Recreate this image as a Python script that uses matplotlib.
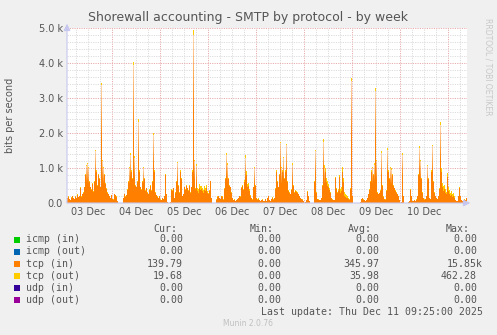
import numpy as np
import matplotlib
matplotlib.use("Agg")
import matplotlib.pyplot as plt
from matplotlib.colors import to_rgb

# 30-minute samples, bits per second, starting Dec 3 01:30
tcp_in = [
    150, 180, 120, 90, 160, 200, 140, 110, 180, 150, 230, 170, 200, 430, 180, 250,
    300, 450, 800, 1050, 1110, 1000, 600, 450, 380, 550, 320, 600, 1480, 900, 500, 800,
    700, 450, 3380, 1200, 1000, 800, 550, 400, 300, 250, 200, 150, 230, 120, 100, 250,
    220, 180, 60, 0, 0, 0, 0, 0, 150, 250, 180, 220, 380, 600, 1000, 1380,
    900, 700, 3950, 1300, 500, 450, 600, 2330, 900, 450, 380, 600, 1000, 700, 350, 420,
    300, 250, 380, 480, 350, 600, 1950, 900, 300, 220, 180, 150, 200, 100, 80, 150,
    120, 200, 800, 250, 30, 0, 0, 20, 380, 350, 420, 150, 300, 600, 1140, 500,
    300, 900, 700, 200, 250, 450, 380, 500, 420, 350, 480, 300, 450, 900, 4800, 1200,
    400, 1050, 350, 300, 420, 380, 400, 350, 300, 380, 350, 420, 300, 250, 350, 620,
    150, 0, 0, 0, 0, 100, 180, 200, 150, 120, 200, 180, 100, 400, 700, 1380,
    1100, 700, 500, 450, 300, 150, 80, 100, 60, 80, 120, 150, 200, 180, 430, 500,
    380, 600, 1280, 800, 450, 500, 350, 200, 150, 100, 450, 1000, 500, 150, 100, 130,
    90, 60, 80, 100, 50, 70, 120, 60, 150, 200, 90, 60, 120, 160, 100, 150,
    400, 900, 600, 450, 800, 1710, 1000, 900, 1280, 700, 900, 1650, 600, 350, 300, 250,
    380, 1100, 500, 300, 350, 330, 300, 250, 200, 150, 120, 100, 50, 0, 30, 80,
    330, 200, 60, 0, 0, 0, 0, 600, 1480, 300, 120, 100, 90, 80, 150, 500,
    1760, 1000, 900, 600, 500, 450, 380, 300, 150, 100, 80, 90, 710, 400, 300, 350,
    760, 300, 350, 900, 600, 200, 180, 150, 150, 120, 100, 400, 3480, 200, 0, 0,
    0, 0, 0, 0, 0, 30, 120, 150, 100, 80, 60, 90, 150, 250, 380, 600,
    900, 1000, 800, 1100, 3190, 1200, 300, 250, 280, 350, 1430, 500, 180, 120, 100, 350,
    1520, 900, 700, 1000, 950, 800, 500, 420, 350, 300, 250, 200, 80, 0, 40, 1380,
    200, 0, 0, 0, 0, 30, 60, 380, 200, 50, 60, 80, 70, 100, 200, 800,
    1570, 1200, 700, 300, 150, 100, 120, 200, 1050, 700, 150, 120, 900, 1620, 600, 300,
    200, 150, 120, 200, 400, 2240, 900, 450, 350, 400, 300, 250, 760, 350, 250, 200,
    230, 180, 200, 150, 80, 60, 50, 200, 430, 200, 80, 60, 50, 100, 80, 150,
]
tcp_out = [
    10, 15, 10, 5, 10, 15, 10, 10, 15, 10, 20, 15, 15, 30, 15, 20,
    20, 25, 35, 40, 45, 40, 25, 20, 20, 30, 20, 25, 50, 35, 25, 30,
    25, 20, 60, 40, 35, 30, 25, 20, 20, 15, 15, 10, 15, 10, 5, 15,
    15, 10, 5, 0, 0, 0, 0, 0, 10, 15, 15, 15, 20, 30, 40, 50,
    35, 30, 90, 45, 25, 20, 25, 70, 35, 20, 20, 25, 40, 30, 20, 20,
    20, 15, 20, 25, 20, 25, 50, 35, 20, 15, 10, 10, 15, 5, 5, 10,
    5, 15, 30, 15, 0, 0, 0, 0, 20, 20, 25, 10, 20, 25, 45, 20,
    20, 35, 30, 15, 15, 25, 20, 30, 25, 20, 30, 20, 25, 35, 140, 45,
    30, 60, 90, 110, 120, 110, 100, 90, 80, 100, 90, 100, 60, 30, 30, 25,
    10, 0, 0, 0, 0, 5, 10, 15, 10, 5, 15, 10, 5, 20, 30, 50,
    40, 30, 25, 20, 20, 10, 5, 5, 5, 5, 5, 10, 15, 10, 25, 30,
    25, 60, 90, 120, 100, 80, 40, 20, 10, 5, 25, 35, 20, 10, 5, 10,
    5, 5, 5, 5, 5, 5, 10, 5, 10, 15, 5, 5, 10, 10, 5, 10,
    20, 35, 25, 20, 30, 50, 40, 35, 45, 30, 40, 50, 25, 20, 20, 15,
    20, 40, 25, 20, 20, 20, 15, 15, 15, 10, 10, 5, 5, 0, 0, 5,
    15, 10, 5, 0, 0, 0, 0, 25, 50, 15, 10, 5, 5, 5, 10, 25,
    60, 80, 100, 120, 130, 110, 60, 30, 10, 5, 5, 5, 30, 20, 25, 40,
    40, 90, 110, 120, 130, 110, 90, 80, 60, 25, 10, 20, 90, 15, 0, 0,
    0, 0, 0, 0, 0, 0, 5, 10, 5, 5, 5, 5, 10, 15, 20, 25,
    35, 40, 30, 40, 110, 45, 20, 15, 20, 20, 50, 20, 10, 10, 5, 15,
    50, 35, 30, 40, 40, 30, 25, 20, 20, 15, 15, 15, 5, 0, 0, 45,
    10, 0, 0, 0, 0, 0, 5, 15, 15, 5, 5, 5, 5, 5, 15, 30,
    50, 45, 30, 20, 10, 5, 10, 15, 40, 30, 10, 10, 35, 55, 35, 20,
    15, 10, 10, 15, 25, 80, 90, 120, 130, 120, 100, 80, 90, 110, 120, 100,
    110, 90, 80, 40, 10, 5, 5, 15, 20, 15, 5, 5, 5, 5, 5, 10,
]

day_labels = ["03 Dec", "04 Dec", "05 Dec", "06 Dec", "07 Dec", "08 Dec", "09 Dec", "10 Dec"]
y_labels = ["0.0", "1.0 k", "2.0 k", "3.0 k", "4.0 k", "5.0 k"]

series = ["icmp (in)", "icmp (out)", "tcp (in)", "tcp (out)", "udp (in)", "udp (out)"]
colors = ["#00CC00", "#0066B3", "#FF8000", "#FFCC00", "#330099", "#990099"]
cur = ["0.00", "0.00", "139.79", "19.68", "0.00", "0.00"]
vmin = ["0.00", "0.00", "0.00", "0.00", "0.00", "0.00"]
avg = ["0.00", "0.00", "345.97", "35.98", "0.00", "0.00"]
vmax = ["0.00", "0.00", "15.85k", "462.28", "0.00", "0.00"]

W, H = 497, 335
BG = "#F0F0F0"
TXT = "#555555"
YMAX = 5000


def fx(px):
    return px / W


def fy(py):
    return 1 - py / H


fig = plt.figure(figsize=(W / 100, H / 100), dpi=100, facecolor=BG)
ax = fig.add_axes([fx(67), fy(203), 400 / W, 175 / H], facecolor="white")

# hours since start; first midnight at 22.5 h
step = 0.5
n = len(tcp_in)
t_in = np.array(tcp_in, dtype=float)
t_out = np.array(tcp_out, dtype=float)

ax.set_xlim(0, n * step)
ax.set_ylim(0, YMAX)
for s in ax.spines.values():
    s.set_visible(False)

# grid: minor every 6 h / 200 bps, major at midnight / 1000 bps
minor_col, major_col = "#dcdcdc", "#e8abab"
dots = (0, (1.2, 1.2))
for h in np.arange(4.5, 200, 6):
    is_major = abs((h - 22.5) % 24) < 1e-6
    ax.axvline(h, color=major_col if is_major else minor_col, lw=0.7,
               ls=dots, zorder=1)
for v in range(200, YMAX + 1, 200):
    ax.axhline(v, color=major_col if v % 1000 == 0 else minor_col, lw=0.7,
               ls=dots, zorder=1)

# stacked areas rendered as a column raster so narrow peaks fade toward the top
ny = 700
yc = (np.arange(ny) + 0.5) * YMAX / ny
img = np.zeros((ny, n, 4))
col_in = np.array(to_rgb("#FF8000"))
col_out = np.array(to_rgb("#FFCC00"))

below_in = yc[:, None] < t_in[None, :]
frac = np.divide(yc[:, None], t_in[None, :], out=np.zeros((ny, n)),
                 where=t_in[None, :] > 0)
fade = np.clip(1 - 0.7 * (frac - 0.55) / 0.45, 0.3, 1.0)
alpha_in = np.where(t_in[None, :] > 900, fade, 1.0) * below_in
img[..., :3] = col_in
img[..., 3] = alpha_in

in_out = (yc[:, None] >= t_in[None, :]) & (yc[:, None] < (t_in + t_out)[None, :])
img[in_out, :3] = col_out
img[in_out, 3] = 1.0

ax.imshow(img, origin="lower", extent=[0, n * step, 0, YMAX], aspect="auto",
          interpolation="nearest", zorder=2)

ax.set_xticks(np.arange(10.5, 200, 24)[:len(day_labels)])
ax.set_xticklabels(day_labels, fontsize=7, color=TXT)
ax.set_yticks(np.arange(0, YMAX + 1, 1000))
ax.set_yticklabels(y_labels, fontsize=7, color=TXT)
ax.tick_params(length=0, pad=3)

# axis arrows
axis_col = "#c6c6ee"
ax.annotate("", xy=(0, 5200), xytext=(0, -60), annotation_clip=False,
            arrowprops=dict(arrowstyle="-|>,head_length=0.4,head_width=0.2",
                            color=axis_col, lw=0.8))
ax.annotate("", xy=(203, 0), xytext=(-1.5, 0), annotation_clip=False,
            arrowprops=dict(arrowstyle="-|>,head_length=0.4,head_width=0.2",
                            color=axis_col, lw=0.8))

fig.text(fx(248), fy(18), "Shorewall accounting - SMTP by protocol - by week",
         ha="center", va="center", fontsize=9, color=TXT)
fig.text(fx(10), fy(115), "bits per second", rotation=90, ha="center",
         va="center", fontsize=7, color=TXT)
fig.text(fx(488), fy(18), "RRDTOOL / TOBI OETIKER", rotation=270, ha="center",
         va="top", fontsize=5.5, color="#c8c8c8")

# legend table
mono = dict(family="DejaVu Sans Mono", fontsize=7.1, color=TXT, va="center")
hdr_y = 228.5
for name, xr in [("Cur:", 177), ("Min:", 274), ("Avg:", 372), ("Max:", 470)]:
    fig.text(fx(xr), fy(hdr_y), name, ha="right", **mono)

rows_y = [239.5, 251.5, 263.7, 275.7, 287.7, 299.7]
for i, name in enumerate(series):
    y = rows_y[i]
    fig.patches.append(plt.Rectangle((fx(14), fy(y + 3)), 6 / W, 6 / H,
                                     transform=fig.transFigure,
                                     color=colors[i], lw=0))
    fig.text(fx(26.5), fy(y), name, ha="left", **mono)
    for col, xr in [(cur, 183), (vmin, 281), (avg, 379), (vmax, 477)]:
        val = col[i]
        shift = 6 if val.endswith("k") else 0
        fig.text(fx(xr + shift), fy(y), val, ha="right", **mono)

fig.text(fx(483), fy(311.7), "Last update: Thu Dec 11 09:25:00 2025",
         ha="right", **mono)
fig.text(fx(248), fy(324), "Munin 2.0.76", ha="center", va="center",
         fontsize=5.5, color="#c0c0c0")

fig.savefig("out.png", dpi=100, facecolor=BG)
